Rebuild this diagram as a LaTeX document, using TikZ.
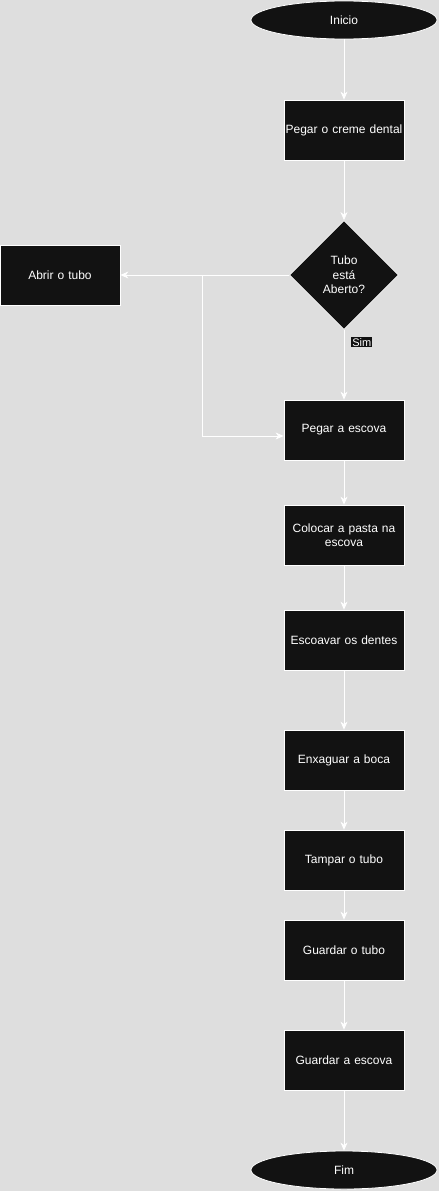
\documentclass[tikz,border=0pt]{standalone}
\usepackage{fontspec}
\setmainfont{Liberation Sans}
\usetikzlibrary{shapes.geometric, arrows.meta}
\definecolor{fundo}{HTML}{DEDEDE}
\definecolor{caixa}{HTML}{121212}
\tikzstyle{etapa} = [rectangle,draw=white,fill=caixa,text=white,line width=.8pt,minimum width=120pt,minimum height=60pt,inner sep=1pt,text width=118pt,align=center,font=\fontsize{12}{14.5}\selectfont]
\tikzstyle{terminal} = [ellipse,draw=white,fill=caixa,text=white,line width=.8pt,minimum width=186pt,minimum height=38pt,font=\fontsize{12}{14.5}\selectfont]
\tikzstyle{decisao} = [diamond,draw=white,fill=caixa,text=white,line width=.8pt,minimum width=109pt,minimum height=109pt,inner sep=1pt,align=center,font=\fontsize{12}{14.5}\selectfont]
\tikzstyle{seta} = [draw=white,line width=.8pt,-{Stealth[length=8pt,width=7pt,inset=2.5pt]}]
\tikzstyle{sim} = [fill=caixa,text=white,inner sep=1pt,font=\fontsize{11}{12}\selectfont]

\begin{document}
\begin{tikzpicture}[node distance=110pt]
		\fill[fundo] (0,0) rectangle (439pt,-1191pt);
		\useasboundingbox (0,0) rectangle (439pt,-1191pt);
		\node [terminal] at (344pt,-20pt) (inicio){Inicio};
		\node [etapa,below of=inicio](creme){Pegar o creme dental};
		\node [decisao,below of=creme,yshift=-35pt](tubo){Tubo\\está\\Aberto?};
		\node [etapa,left of=tubo,xshift=-174pt](abrir){Abrir o tubo};
		\node [etapa,below of=tubo,yshift=-45pt](escova){Pegar a escova};
		\node [etapa,below of=escova,yshift=5pt](pasta){Colocar a pasta na\\escova};
		\node [etapa,below of=pasta,yshift=5pt](escovar){Escoavar os dentes};
		\node [etapa,below of=escovar,yshift=-10pt](enxaguar){Enxaguar a boca};
		\node [etapa,below of=enxaguar,yshift=10pt](tampar){Tampar o tubo};
		\node [etapa,below of=tampar,yshift=20pt](guardart){Guardar o tubo};
		\node [etapa,below of=guardart](guardare){Guardar a escova};
		\node [terminal,below of=guardare](fim){Fim};
		\coordinate (desvio) at (202pt,-275pt);

		\draw[seta](inicio)--(creme);
		\draw[seta](creme)--(tubo);
		\draw[seta](tubo)--(abrir);
		\draw[seta](tubo)--node[sim,right,xshift=7pt,pos=.18]{Sim}(escova);
		\draw[seta](desvio)|-([yshift=-6pt]escova.west);
		\draw[seta](escova)--(pasta);
		\draw[seta](pasta)--(escovar);
		\draw[seta](escovar)--(enxaguar);
		\draw[seta](enxaguar)--(tampar);
		\draw[seta](tampar)--(guardart);
		\draw[seta](guardart)--(guardare);
		\draw[seta](guardare)--(fim);
\end{tikzpicture}
\end{document}
